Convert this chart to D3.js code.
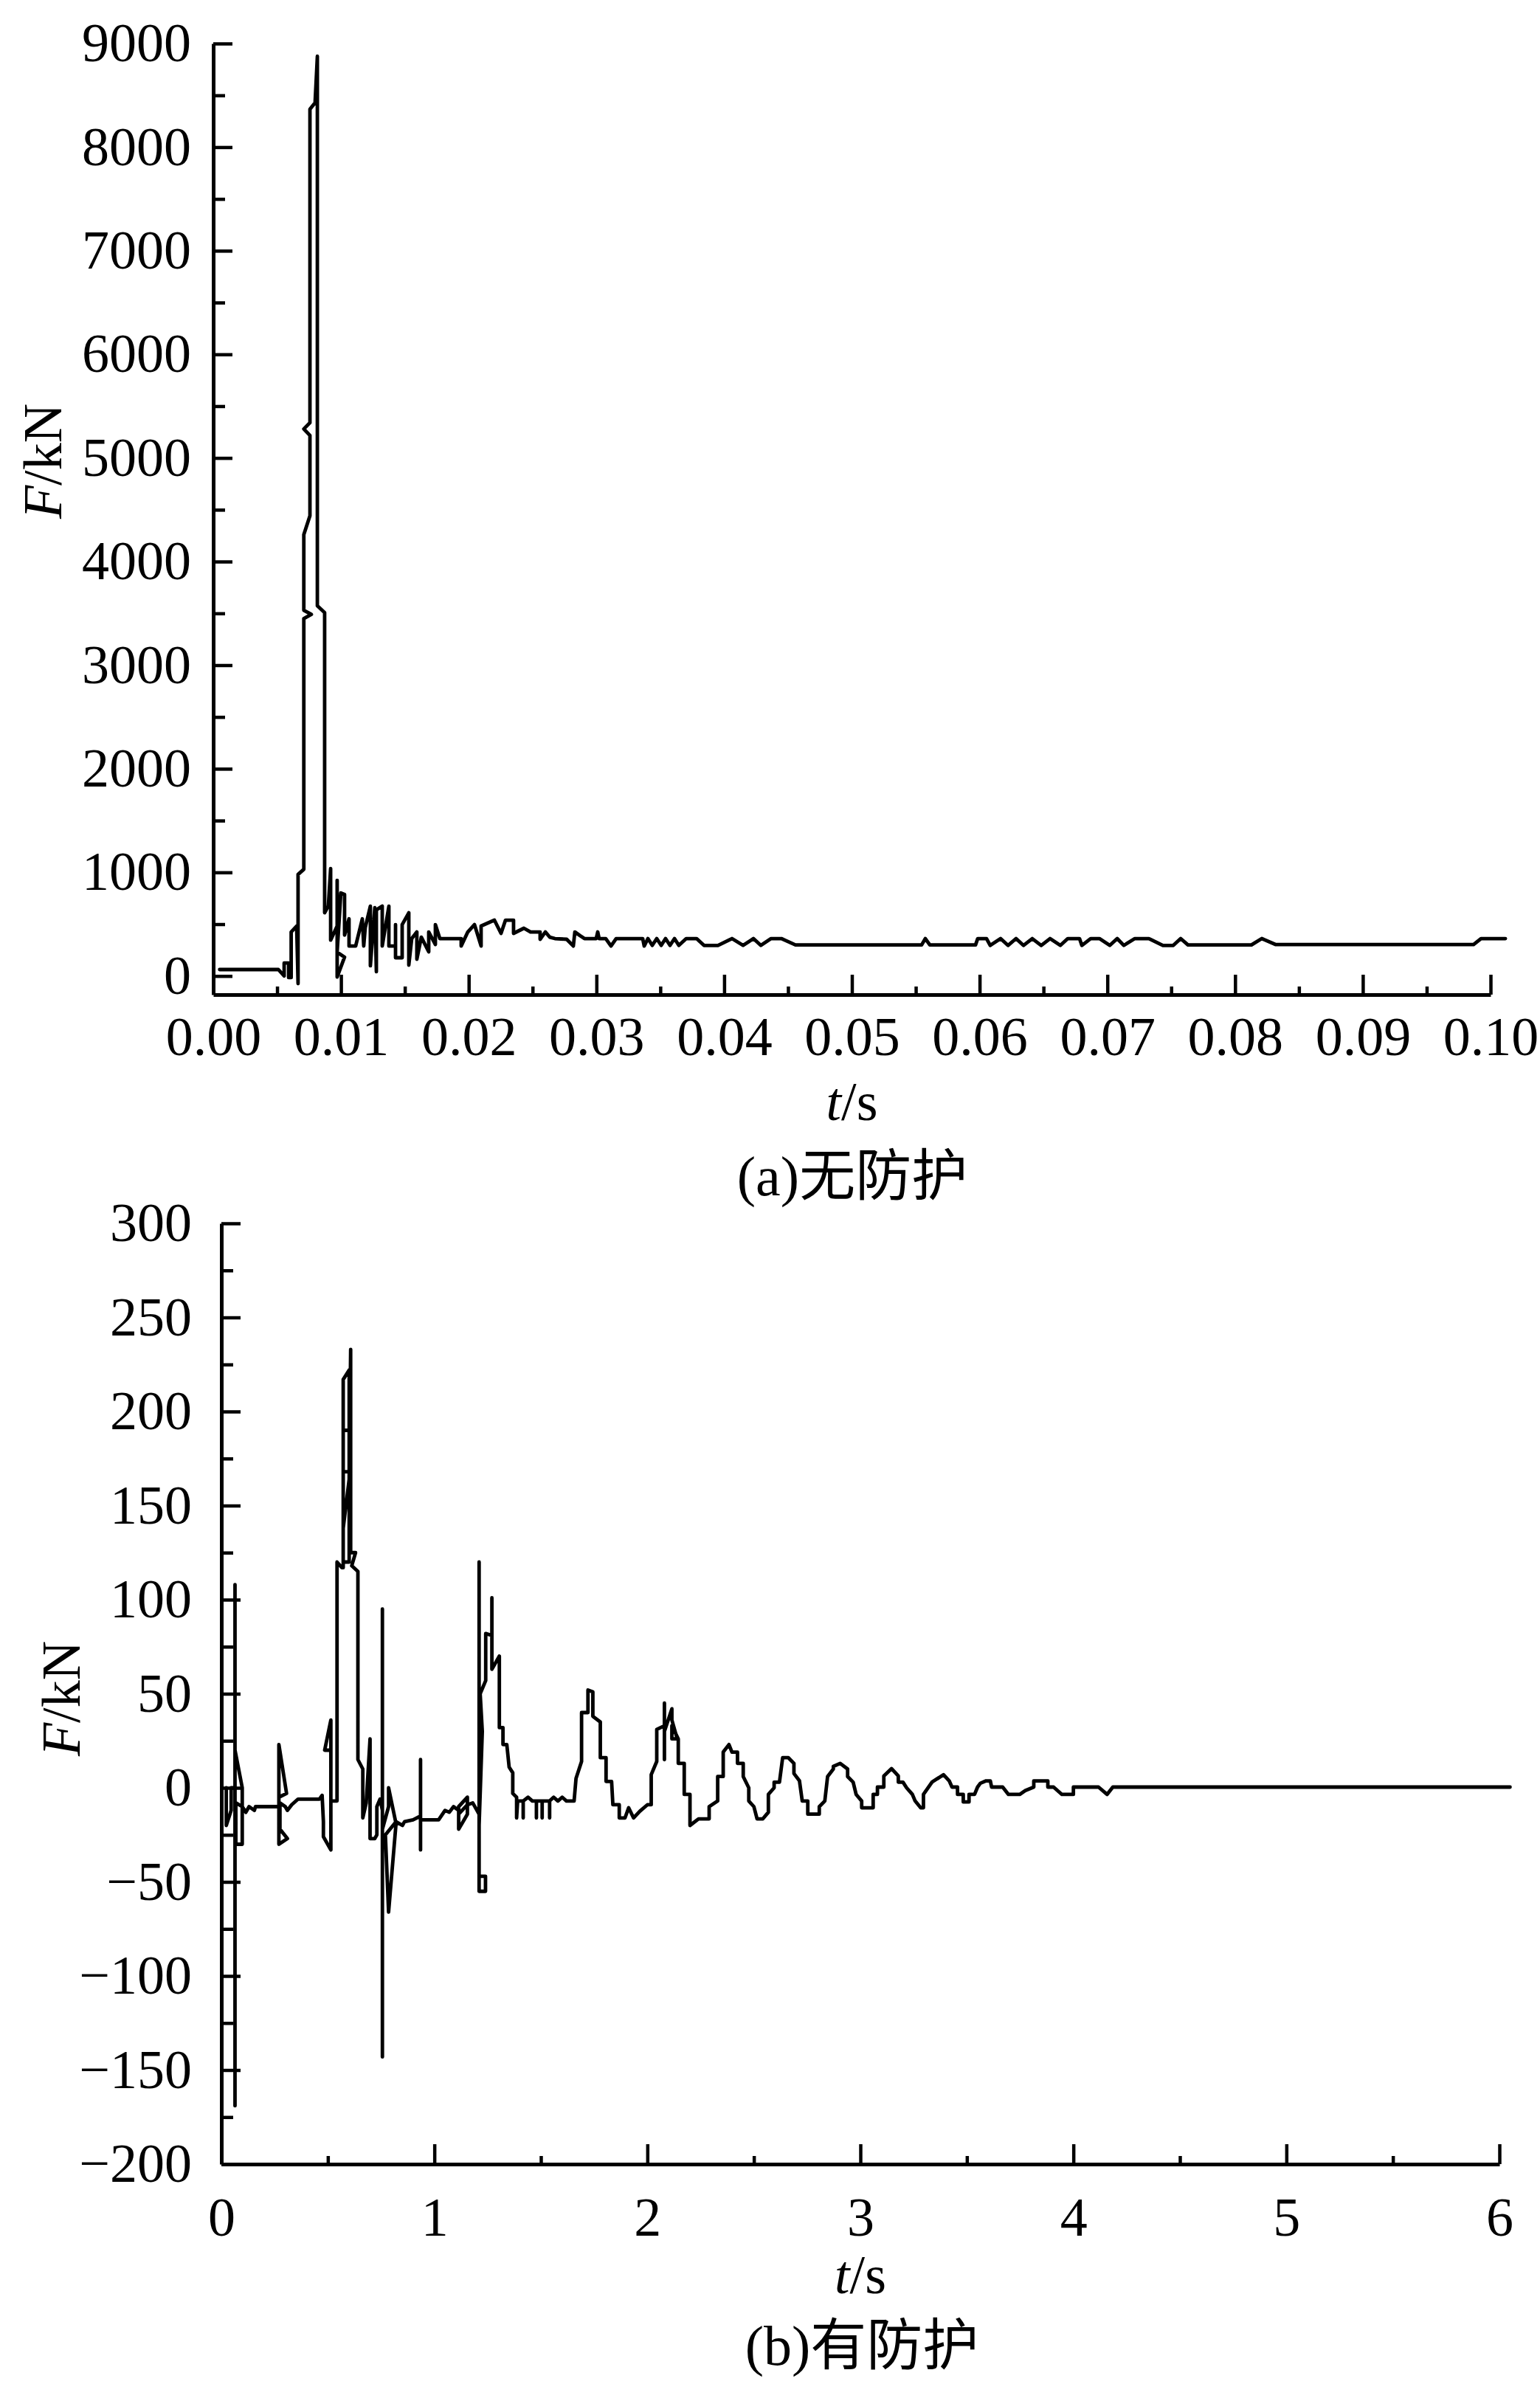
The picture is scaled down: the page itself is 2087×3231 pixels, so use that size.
<!DOCTYPE html>
<html>
<head>
<meta charset="utf-8">
<script src="https://cdn.jsdelivr.net/npm/d3@7/dist/d3.min.js"></script>
<style>
    body { margin: 0; background: #fff; }
</style>
</head>
<body>
<div id="chartContainer"></div>
<script>
// (a) 无防护 : t (s), F (kN)
const timeA = [
    0.0005, 0.0051, 0.00555, 0.00555, 0.0059, 0.0059, 0.0061, 0.0061, 0.00653, 0.00664,
    0.00664, 0.00709, 0.00709, 0.00768, 0.00709, 0.00709, 0.00757, 0.00757, 0.00709, 0.00757,
    0.00757, 0.00797, 0.00815, 0.00815, 0.00872, 0.00872, 0.00901, 0.00919, 0.00919, 0.0097,
    0.0097, 0.0097, 0.01028, 0.0097, 0.00999, 0.01028, 0.01028, 0.01063, 0.01063, 0.01115,
    0.01167, 0.01178, 0.0119, 0.0123, 0.0123, 0.01265, 0.01277, 0.01277, 0.01323, 0.01323,
    0.01375, 0.01375, 0.01427, 0.01427, 0.01427, 0.01479, 0.01479, 0.01531, 0.01531, 0.01554,
    0.01594, 0.01594, 0.01629, 0.01687, 0.01687, 0.01739, 0.01739, 0.01774, 0.01941, 0.01941,
    0.01993, 0.02045, 0.02097, 0.02097, 0.02201, 0.02253, 0.02288, 0.02351, 0.02351, 0.02432,
    0.02484, 0.02559, 0.02559, 0.026, 0.02634, 0.02675, 0.02767, 0.02819, 0.02831, 0.02871,
    0.02906, 0.02998, 0.0301, 0.03021, 0.03073, 0.03114, 0.03154, 0.03362, 0.03374, 0.03403,
    0.03437, 0.03472, 0.03507, 0.03541, 0.03576, 0.03611, 0.03645, 0.03703, 0.03784, 0.03842,
    0.03951, 0.04061, 0.04148, 0.04229, 0.04287, 0.04367, 0.04448, 0.04558, 0.05546, 0.05575,
    0.0561, 0.05968, 0.05985, 0.06054, 0.06083, 0.06164, 0.06222, 0.06285, 0.06343, 0.06412,
    0.06482, 0.06551, 0.06632, 0.0669, 0.06782, 0.068, 0.06869, 0.06938, 0.07019, 0.07077,
    0.07129, 0.07215, 0.07325, 0.07435, 0.07516, 0.07574, 0.07631, 0.08128, 0.08209, 0.08319,
    0.09867, 0.09925, 0.10116
];
const forceA = [
    62, 62, 0, 125, 125, -16, -16, 425, 482, -73,
    980, 1030, 3450, 3490, 3530, 4260, 4442, 5218, 5280, 5340,
    8366, 8428, 8877, 3573, 3508, 610, 675, 1037, 346, 482,
    923, -10, 182, 230, 801, 787, 395, 552, 289, 289,
    552, 289, 467, 674, 98, 660, 41, 638, 674, 289,
    674, 289, 289, 496, 176, 176, 496, 610, 105, 361,
    425, 162, 375, 233, 425, 304, 496, 361, 361, 289,
    425, 496, 289, 482, 539, 411, 539, 539, 411, 461,
    425, 425, 354, 425, 375, 361, 354, 289, 425, 390,
    361, 361, 425, 361, 361, 289, 361, 361, 289, 361,
    295, 361, 295, 361, 295, 361, 295, 361, 361, 295,
    295, 361, 295, 361, 295, 361, 361, 300, 300, 361,
    300, 300, 361, 361, 295, 361, 295, 361, 295, 361,
    295, 361, 295, 361, 361, 295, 361, 361, 295, 361,
    295, 361, 361, 295, 295, 361, 300, 300, 361, 303,
    303, 361, 361
];
const xTicksA = [0, 0.01, 0.02, 0.03, 0.04, 0.05, 0.06, 0.07, 0.08, 0.09, 0.10];
const yTicksA = [0, 1000, 2000, 3000, 4000, 5000, 6000, 7000, 8000, 9000];

// (b) 有防护 : t (s), F (kN)
const timeB = [
    0.023, 0.023, 0.046, 0.046, 0.064, 0.064, 0.064, 0.064, 0.098, 0.098,
    0.068, 0.068, 0.098, 0.115, 0.13, 0.155, 0.16, 0.27, 0.27, 0.306,
    0.27, 0.27, 0.31, 0.275, 0.275, 0.3, 0.31, 0.33, 0.36, 0.46,
    0.473, 0.479, 0.479, 0.514, 0.514, 0.485, 0.514, 0.514, 0.543, 0.543,
    0.566, 0.572, 0.572, 0.6, 0.6, 0.572, 0.572, 0.6, 0.6, 0.572,
    0.572, 0.6, 0.607, 0.607, 0.63, 0.612, 0.641, 0.641, 0.664, 0.664,
    0.68, 0.698, 0.698, 0.72, 0.73, 0.73, 0.745, 0.756, 0.756, 0.756,
    0.756, 0.785, 0.785, 0.82, 0.785, 0.77, 0.82, 0.85, 0.86, 0.9,
    0.935, 0.935, 0.935, 0.935, 1.02, 1.05, 1.07, 1.09, 1.114, 1.114,
    1.155, 1.155, 1.114, 1.114, 1.155, 1.18, 1.2, 1.21, 1.21, 1.21,
    1.24, 1.24, 1.21, 1.21, 1.225, 1.215, 1.241, 1.241, 1.27, 1.27,
    1.27, 1.305, 1.305, 1.322, 1.322, 1.34, 1.351, 1.368, 1.368, 1.386,
    1.386, 1.391, 1.417, 1.417, 1.417, 1.44, 1.46, 1.479, 1.479, 1.479,
    1.506, 1.506, 1.506, 1.541, 1.541, 1.541, 1.56, 1.58, 1.6, 1.62,
    1.656, 1.665, 1.691, 1.691, 1.721, 1.721, 1.744, 1.744, 1.779, 1.779,
    1.806, 1.806, 1.832, 1.838, 1.868, 1.868, 1.895, 1.912, 1.935, 1.965,
    2.0, 2.018, 2.018, 2.044, 2.044, 2.08, 2.08, 2.08, 2.08, 2.115,
    2.115, 2.14, 2.115, 2.115, 2.145, 2.145, 2.173, 2.173, 2.2, 2.2,
    2.24, 2.29, 2.29, 2.33, 2.33, 2.356, 2.356, 2.383, 2.397, 2.423,
    2.423, 2.45, 2.45, 2.476, 2.476, 2.5, 2.515, 2.542, 2.568, 2.568,
    2.595, 2.595, 2.62, 2.635, 2.662, 2.688, 2.688, 2.714, 2.727, 2.753,
    2.753, 2.807, 2.807, 2.833, 2.846, 2.873, 2.873, 2.905, 2.94, 2.94,
    2.966, 2.98, 3.006, 3.006, 3.06, 3.06, 3.08, 3.08, 3.11, 3.11,
    3.146, 3.178, 3.178, 3.2, 3.217, 3.244, 3.257, 3.283, 3.296, 3.296,
    3.336, 3.39, 3.417, 3.43, 3.456, 3.456, 3.483, 3.483, 3.51, 3.51,
    3.536, 3.55, 3.563, 3.59, 3.61, 3.616, 3.668, 3.695, 3.748, 3.774,
    3.814, 3.814, 3.88, 3.88, 3.907, 3.946, 4.0, 4.0, 4.118, 4.158,
    4.185, 6.05
];
const forceB = [
    0, -20, -12, 0, 0, 108, -169, 20, 0, -30,
    -30, -8, -10, -13, -10, -12, -10, -10, 23, -3,
    -5, -30, -27, -22, -8, -10, -12, -9, -6, -6,
    -4, -18, -26, -33, 36, 20, 20, -7, -7, 120,
    117, 117, 217, 222, 120, 120, 168, 168, 190, 190,
    138, 164, 233, 125, 125, 118, 115, 15, 10, -16,
    -8, 26, -27, -27, -25, -10, -6, -12, 95, -143,
    -22, -10, 0, -19, -66, -25, -18, -20, -18, -17,
    -15, 15, -33, -17, -17, -12, -13, -10, -12, -22,
    -14, -5, -10, -14, -9, -8, -12, -14, 120, -47,
    -47, -55, -55, -20, 30, 50, 57, 82, 81, 101,
    63, 70, 32, 32, 23, 23, 11, 8, -3, -5,
    -16, -7, -7, -16, -7, -5, -7, -7, -16, -7,
    -7, -16, -7, -7, -16, -7, -5, -7, -5, -7,
    -7, 5, 14, 40, 40, 52, 51, 38, 35, 16,
    16, 3.4, 3.4, -9, -9, -16, -16, -10.6, -16, -12.4,
    -9, -9, 7, 14, 31, 33, 45, 15, 30, 42,
    36, 26, 26, 33, 26, 13, 13, -3.5, -3.5, -20,
    -16.5, -16.5, -10, -7, 6, 6, 19, 23, 19, 19,
    13, 13, 6, 0, -7, -10, -16.5, -16.5, -13, -3.5,
    0, 3, 3, 16, 16, 13, 7.6, 3.7, -7, -7,
    -14, -14, -10, -7, 6, 10, 11.4, 13, 10, 6,
    3, -3.5, -7, -10.6, -10.6, -3.5, -3.5, 0.4, 0.4, 6.3,
    10.2, 6.3, 3, 3, 0, -3.5, -7, -10.6, -10.6, -3.5,
    3, 7, 3.7, 0.4, 0.4, -3.5, -3.5, -7.5, -7.5, -3.5,
    -3.5, 0.4, 2.4, 3.7, 3.7, 0.4, 0.4, -3.5, -3.5, -1.5,
    0.4, 3.7, 3.7, 0.4, 0.4, -3.5, -3.5, 0.4, 0.4, -3.5,
    0.4, 0.4
];
const xTicksB = [0, 1, 2, 3, 4, 5, 6];
const yTicksB = [-200, -150, -100, -50, 0, 50, 100, 150, 200, 250, 300];

const FONT = "'Liberation Serif', 'Times New Roman', 'Noto Sans CJK SC', serif";

function drawPanel(svg, p) {
    const x = d3.scaleLinear().domain(p.xDomain).range(p.xRange);
    const y = d3.scaleLinear().domain(p.yDomain).range(p.yRange);
    const g = svg.append("g");

    // Ara çentikler (minor)
    g.append("g")
        .attr("transform", `translate(0,${p.yRange[0]})`)
        .call(d3.axisBottom(x).tickValues(p.xMinor).tickSizeInner(-11).tickSizeOuter(0).tickFormat(""))
        .call(a => a.select(".domain").remove())
        .selectAll("line").attr("stroke-width", 4.5);

    g.append("g")
        .attr("transform", `translate(${p.xRange[0]},0)`)
        .call(d3.axisLeft(y).tickValues(p.yMinor).tickSizeInner(-16).tickSizeOuter(0).tickFormat(""))
        .call(a => a.select(".domain").remove())
        .selectAll("line").attr("stroke-width", 4.5);

    // X ekseni
    const xAxis = g.append("g")
        .attr("transform", `translate(0,${p.yRange[0]})`)
        .call(d3.axisBottom(x).tickValues(p.xTicks).tickSizeInner(-27).tickSizeOuter(0)
            .tickPadding(p.xPad).tickFormat(p.xFormat));
    xAxis.select(".domain").attr("stroke-width", 5);
    xAxis.selectAll("line").attr("stroke-width", 4.5);
    xAxis.selectAll("text")
        .style("font-family", FONT)
        .style("font-size", "74px")
        .style("fill", "#000");

    // Y ekseni
    const yAxis = g.append("g")
        .attr("transform", `translate(${p.xRange[0]},0)`)
        .call(d3.axisLeft(y).tickValues(p.yTicks).tickSizeInner(-26).tickSizeOuter(0)
            .tickPadding(p.yPad).tickFormat(d => d < 0 ? "\u2212" + Math.abs(d) : d));
    yAxis.select(".domain").attr("stroke-width", 5);
    yAxis.selectAll("line").attr("stroke-width", 4.5);
    yAxis.selectAll("text")
        .style("font-family", FONT)
        .style("font-size", "74px")
        .style("fill", "#000");

    // Çizgi
    const line = d3.line()
        .x(d => x(d[0]))
        .y(d => y(d[1]));

    g.append("path")
        .datum(d3.zip(p.time, p.force))
        .attr("fill", "none")
        .attr("stroke", "#000")
        .attr("stroke-width", 4.8)
        .attr("stroke-linejoin", "round")
        .attr("stroke-linecap", "round")
        .attr("d", line);

    // Eksen etiketleri
    const yl = g.append("text")
        .attr("transform", `translate(${p.yLabelX},${p.yLabelY}) rotate(-90)`)
        .attr("text-anchor", "middle")
        .style("font-family", FONT)
        .style("font-size", "74px");
    yl.append("tspan").style("font-style", "italic").text("F");
    yl.append("tspan").text("/kN");

    const xl = g.append("text")
        .attr("x", (p.xRange[0] + p.xRange[1]) / 2)
        .attr("y", p.xLabelY)
        .attr("text-anchor", "middle")
        .style("font-family", FONT)
        .style("font-size", "74px");
    xl.append("tspan").style("font-style", "italic").text("t");
    xl.append("tspan").text("/s");

    // Alt başlık
    g.append("text")
        .attr("x", p.captionX)
        .attr("y", p.captionY)
        .attr("text-anchor", "middle")
        .style("font-family", FONT)
        .style("font-size", "76px")
        .text(p.caption);
}

const svg = d3.select("#chartContainer")
    .append("svg")
    .attr("width", 2087)
    .attr("height", 3231)
    .style("background", "#fff");

drawPanel(svg, {
    time: timeA, force: forceA,
    xDomain: [0, 0.1], xRange: [289, 2020],
    yDomain: [-180, 9000], yRange: [1348, 59],
    xTicks: xTicksA, yTicks: yTicksA,
    xMinor: d3.range(0.005, 0.1, 0.01),
    yMinor: d3.range(500, 9000, 1000),
    xFormat: d3.format(".2f"),
    xPad: 29, yPad: 30,
    yLabelX: 83, yLabelY: 625,
    xLabelY: 1518,
    caption: "(a)无防护", captionX: 1155, captionY: 1620
});

drawPanel(svg, {
    time: timeB, force: forceB,
    xDomain: [0, 6], xRange: [300, 2032],
    yDomain: [-200, 300], yRange: [2933, 1658],
    xTicks: xTicksB, yTicks: yTicksB,
    xMinor: d3.range(0.5, 6, 1),
    yMinor: d3.range(-175, 300, 50),
    xFormat: d3.format("d"),
    xPad: 44, yPad: 40,
    yLabelX: 108, yLabelY: 2302,
    xLabelY: 3108,
    caption: "(b)有防护", captionX: 1168, captionY: 3205
});
</script>
</body>
</html>
